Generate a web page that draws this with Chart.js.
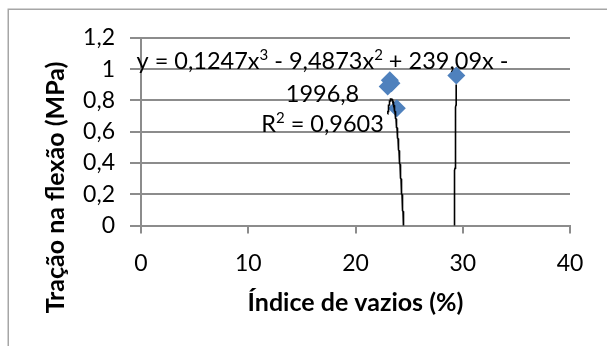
<!DOCTYPE html>
<html>
<head>
<meta charset="utf-8">
<script src="https://cdn.jsdelivr.net/npm/chart.js@4/dist/chart.umd.min.js"></script>
<style>
  html, body { margin: 0; padding: 0; background: #fff; }
  #wrap { width: 607px; height: 346px; position: relative; }
</style>
</head>
<body>
<div id="wrap"><canvas id="chart"></canvas></div>
<script>
// Measured samples: void index (%) vs. flexural tensile strength (MPa)
const voidIndex    = [23.2, 23.35, 23.0, 23.85, 29.4];
const flexTension  = [0.93, 0.91, 0.89, 0.75, 0.96];

// Cubic trendline coefficients (x^3, x^2, x, constant) and its R²
const trendCoefs = [0.1247, -9.4873, 239.09, -1996.8];
const rSquared   = 0.9603;

// Axis tick labels (decimal comma)
const yTickValues = [0, 0.2, 0.4, 0.6, 0.8, 1, 1.2];
const yTickLabels = ['0', '0,2', '0,4', '0,6', '0,8', '1', '1,2'];
const xTickValues = [0, 10, 20, 30, 40];
const xTickLabels = ['0', '10', '20', '30', '40'];

const xTitle = 'Índice de vazios (%)';
const yTitle = 'Tração na flexão (MPa)';

const GRID = '#8c8c8c';
const FONT = 'Lato';

// Cubic evaluated over the span of the measured samples
function cubic(x) {
  const [a, b, c, d] = trendCoefs;
  return ((a * x + b) * x + c) * x + d;
}
const xMin = Math.min(...voidIndex);
const xMax = Math.max(...voidIndex);
const trendPoints = [];
const steps = 2000;
for (let i = 0; i <= steps; i++) {
  const x = xMin + (xMax - xMin) * i / steps;
  trendPoints.push({ x, y: cubic(x) });
}

const fmt = v => String(Math.abs(v)).replace('.', ',');
const [c3, c2, c1, c0] = trendCoefs;
const sign = v => (v < 0 ? ' - ' : ' + ');
const eqLines = [
  [
    { t: 'y = ' + fmt(c3) + 'x' }, { t: '3', sup: true },
    { t: sign(c2) + fmt(c2) + 'x' }, { t: '2', sup: true },
    { t: sign(c1) + fmt(c1) + 'x' + (c0 < 0 ? ' -' : ' +') }
  ],
  [ { t: fmt(c0) } ],
  [ { t: 'R' }, { t: '2', sup: true }, { t: ' = ' + fmt(rSquared) } ]
];

// Frame, rotated y title and trendline equation
const decorations = {
  id: 'decorations',
  beforeDraw(chart, args, opts) {
    const ctx = chart.ctx;
    ctx.save();
    ctx.fillStyle = '#fff';
    ctx.fillRect(0, 0, chart.width, chart.height);
    ctx.strokeStyle = opts.frameColor;
    ctx.lineWidth = 1.5;
    ctx.strokeRect(opts.frameLeft, opts.frameTop, chart.width + 20, chart.height + 20);
    ctx.restore();
  },
  afterDraw(chart, args, opts) {
    const ctx = chart.ctx;
    ctx.save();
    // y axis title, centred vertically on the whole chart
    ctx.translate(opts.yTitleX, opts.yTitleY);
    ctx.rotate(-Math.PI / 2);
    ctx.font = 'bold ' + opts.titleSize + 'px ' + FONT;
    ctx.fillStyle = '#000';
    ctx.textAlign = 'center';
    ctx.textBaseline = 'middle';
    ctx.fillText(yTitle, 0, 0);
    ctx.restore();

    // trendline equation
    ctx.save();
    ctx.fillStyle = '#000';
    ctx.textBaseline = 'alphabetic';
    ctx.textAlign = 'left';
    const big = opts.eqSize + 'px ' + FONT;
    const small = opts.supSize + 'px ' + FONT;
    eqLines.forEach((segs, i) => {
      let w = 0;
      segs.forEach(s => { ctx.font = s.sup ? small : big; w += ctx.measureText(s.t).width; });
      let x = opts.eqCenterX - w / 2;
      const base = opts.eqBaselines[i];
      segs.forEach(s => {
        ctx.font = s.sup ? small : big;
        ctx.fillText(s.t, x, s.sup ? base - opts.supRise : base);
        x += ctx.measureText(s.t).width;
      });
    });
    ctx.restore();
  }
};

new Chart(document.getElementById('chart'), {
  data: {
    datasets: [
      {
        type: 'line',
        label: 'Polinomial',
        data: trendPoints,
        borderColor: '#000',
        borderWidth: 1.6,
        pointRadius: 0,
        tension: 0,
        order: 0
      },
      {
        type: 'scatter',
        label: 'Tração',
        data: voidIndex.map((x, i) => ({ x, y: flexTension[i] })),
        pointStyle: 'rectRot',
        pointRadius: 9,
        pointBackgroundColor: '#4f81bd',
        pointBorderColor: '#4f81bd',
        pointBorderWidth: 0,
        order: 1
      }
    ]
  },
  options: {
    responsive: true,
    maintainAspectRatio: false,
    animation: false,
    events: [],
    layout: { padding: { left: 0, top: 38, right: 37, bottom: 0 } },
    plugins: {
      legend: { display: false },
      tooltip: { enabled: false },
      decorations: {
        frameColor: '#a6a6a6', frameLeft: 8.25, frameTop: 9.25,
        yTitleX: 56, yTitleY: 187.5, titleSize: 25,
        eqSize: 23.5, supSize: 15, supRise: 9,
        eqCenterX: 322.5, eqBaselines: [69, 101.5, 131.5]
      }
    },
    scales: {
      x: {
        type: 'linear',
        min: 0, max: 40,
        afterBuildTicks: s => { s.ticks = xTickValues.map(v => ({ value: v })); },
        afterFit: s => { s.height = 120.5; },
        ticks: {
          callback: (v) => xTickLabels[xTickValues.indexOf(v)],
          font: { family: FONT, size: 23 },
          color: '#000',
          padding: 16,
          maxRotation: 0
        },
        grid: { drawOnChartArea: false, drawTicks: true, tickLength: 8, color: GRID, lineWidth: 2 },
        border: { display: true, color: GRID, width: 2 },
        title: {
          display: true, text: xTitle,
          font: { family: FONT, size: 25, weight: 'bold' },
          color: '#000',
          padding: { top: 0, bottom: 28 }
        }
      },
      y: {
        type: 'linear',
        min: 0, max: 1.2,
        afterBuildTicks: s => { s.ticks = yTickValues.map(v => ({ value: v })); },
        afterFit: s => { s.width = 141; },
        ticks: {
          callback: (v) => yTickLabels[yTickValues.indexOf(v)],
          font: { family: FONT, size: 23 },
          color: '#000',
          padding: 15
        },
        grid: { drawOnChartArea: true, drawTicks: true, tickLength: 11, color: GRID, lineWidth: 2 },
        border: { display: true, color: GRID, width: 2 }
      }
    }
  },
  plugins: [decorations]
});
</script>
</body>
</html>
